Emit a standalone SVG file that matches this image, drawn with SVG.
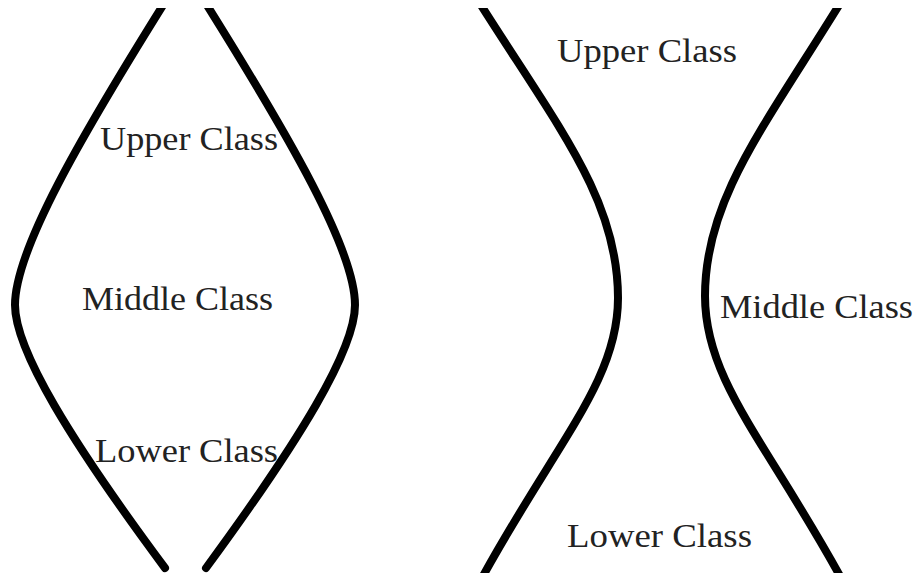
<svg xmlns="http://www.w3.org/2000/svg" width="917" height="573" viewBox="0 0 917 573">
  <style>
    .curve { fill: none; stroke: #000; stroke-width: 8; stroke-linecap: round; stroke-linejoin: round; }
    .lbl { font-family: "Liberation Serif", "Times New Roman", serif; font-size: 33px; fill: #222; }
  </style>
  <defs>
    <clipPath id="clip">
      <rect x="0" y="8" width="917" height="565"/>
    </clipPath>
  </defs>
  <rect width="917" height="573" fill="#fff"/>
  <g id="diamond" clip-path="url(#clip)">
    <path class="curve" d="M165,2 C80,138 15,250 15,305 C15,350 70,440 165,568"/>
    <path class="curve" d="M205,2 C290,138 355,250 355,305 C355,350 300,440 206,568"/>
  </g>
  <g id="hourglass" clip-path="url(#clip)">
    <path class="curve" d="M479,2 C560,130 618,200 618,298 C618,380 558,440 483,576"/>
    <path class="curve" d="M841,2 C762,130 705,200 705,296 C705,380 765,440 840,576"/>
  </g>
  <g id="diamond-labels">
    <text class="lbl" x="100" y="150" textLength="178" lengthAdjust="spacingAndGlyphs">Upper Class</text>
    <text class="lbl" x="82" y="310" textLength="191" lengthAdjust="spacingAndGlyphs">Middle Class</text>
    <text class="lbl" x="95" y="462" textLength="183" lengthAdjust="spacingAndGlyphs">Lower Class</text>
  </g>
  <g id="hourglass-labels">
    <text class="lbl" x="557" y="62" textLength="180" lengthAdjust="spacingAndGlyphs">Upper Class</text>
    <text class="lbl" x="720" y="318" textLength="193" lengthAdjust="spacingAndGlyphs">Middle Class</text>
    <text class="lbl" x="567" y="547" textLength="185" lengthAdjust="spacingAndGlyphs">Lower Class</text>
  </g>
</svg>
